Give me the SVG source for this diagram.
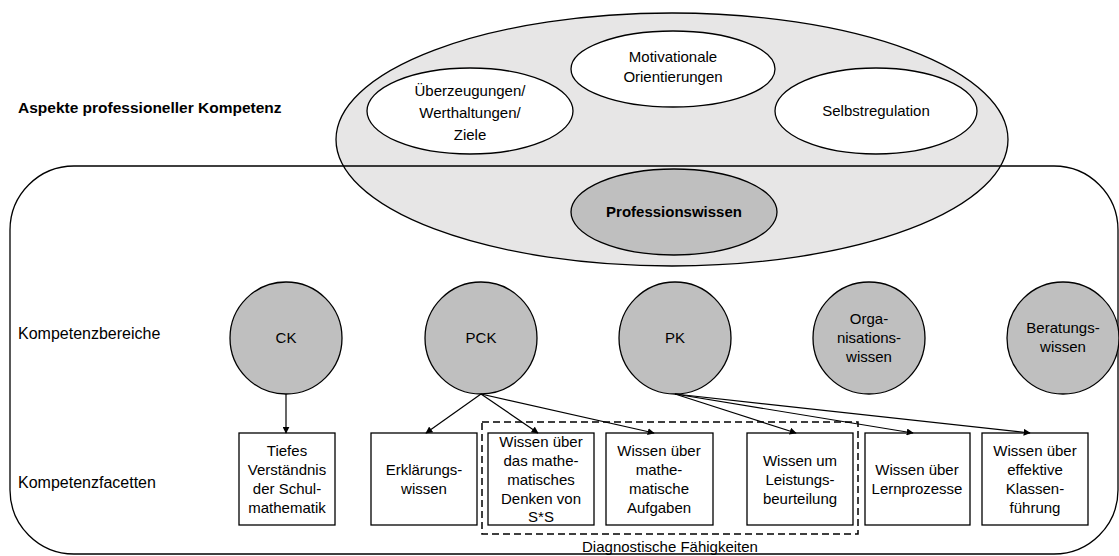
<svg xmlns="http://www.w3.org/2000/svg" width="1119" height="556" viewBox="0 0 1119 556">
<defs>
<style>
text{font-family:"Liberation Sans",Arial,sans-serif;font-size:15px;fill:#000;text-anchor:middle}
.lbl{text-anchor:start;font-size:16px}
.b{font-weight:bold}
.ol{stroke:#000;stroke-width:1.3}
.white{fill:#fff}
.dark{fill:#bfbfbf}
.box{fill:#fff;stroke:#000;stroke-width:1.3}
.con{stroke:#000;stroke-width:1.2;fill:none;marker-end:url(#ah)}
</style>
<marker id="ah" viewBox="0 0 10 10" refX="9" refY="5" markerWidth="7" markerHeight="7" markerUnits="userSpaceOnUse" orient="auto">
<path d="M0,0 L10,5 L0,10 z" fill="#000"/>
</marker>
</defs>
<rect width="1119" height="556" fill="#fff"/>
<g id="aspekte">
<ellipse cx="672" cy="139.5" rx="336" ry="126.5" fill="#e7e6e6" class="ol"/>
</g>
<g id="frame">
<rect x="10" y="166" width="1108" height="388" rx="64" ry="64" fill="none" class="ol"/>
</g>
<g id="ueberzeugungen">
<ellipse cx="470" cy="111" rx="103" ry="43" class="white ol"/>
<text x="470" y="96" font-size="15.5">Überzeugungen/</text>
<text x="470" y="118" font-size="15.5">Werthaltungen/</text>
<text x="470" y="140" font-size="15.5">Ziele</text>
</g>
<g id="motivationale">
<ellipse cx="673" cy="69" rx="102" ry="38" class="white ol"/>
<text x="673" y="62" font-size="15.5">Motivationale</text>
<text x="673" y="82" font-size="15.5">Orientierungen</text>
</g>
<g id="selbstregulation">
<ellipse cx="876" cy="111" rx="101" ry="43" class="white ol"/>
<text x="876" y="116" font-size="15.5">Selbstregulation</text>
</g>
<g id="professionswissen">
<ellipse cx="674" cy="212" rx="103" ry="43" class="dark ol"/>
<text x="674" y="217" class="b">Professionswissen</text>
</g>
<g id="labels">
<text x="18" y="113" class="lbl b" font-size="15.5" style="font-size:15.5px">Aspekte professioneller Kompetenz</text>
<text x="18" y="339" class="lbl">Kompetenzbereiche</text>
<text x="18" y="488" class="lbl">Kompetenzfacetten</text>
</g>
<g id="ck"><circle cx="286" cy="338" r="56" class="dark ol"/><text x="286" y="343">CK</text></g>
<g id="pck"><circle cx="481" cy="338" r="56" class="dark ol"/><text x="481" y="343">PCK</text></g>
<g id="pk"><circle cx="675" cy="338" r="56" class="dark ol"/><text x="675" y="343">PK</text></g>
<g id="orga"><circle cx="869" cy="338" r="56" class="dark ol"/><text x="869" y="324">Orga-</text><text x="869" y="343">nisations-</text><text x="869" y="362">wissen</text></g>
<g id="beratung"><circle cx="1063" cy="338" r="56" class="dark ol"/><text x="1063" y="333">Beratungs-</text><text x="1063" y="352">wissen</text></g>
<g id="diagnostik">
<rect x="482" y="422" width="376" height="112" fill="none" stroke="#000" stroke-width="1.5" stroke-dasharray="7,4"/>
<text x="670" y="552" font-size="12.5">Diagnostische Fähigkeiten</text>
</g>
<g id="f-tiefes"><rect x="239" y="433" width="96" height="92" class="box"/>
<text x="287" y="456">Tiefes</text><text x="287" y="475">Verständnis</text><text x="287" y="494">der Schul-</text><text x="287" y="513">mathematik</text></g>
<g id="f-erklaerung"><rect x="371" y="433" width="106" height="92" class="box"/>
<text x="424" y="475">Erklärungs-</text><text x="424" y="494">wissen</text></g>
<g id="f-denken"><rect x="488" y="433" width="106" height="92" class="box"/>
<text x="541" y="447">Wissen über</text><text x="541" y="466">das mathe-</text><text x="541" y="485">matisches</text><text x="541" y="504">Denken von</text><text x="541" y="522">S*S</text></g>
<g id="f-aufgaben"><rect x="606" y="433" width="107" height="92" class="box"/>
<text x="659" y="456">Wissen über</text><text x="659" y="475">mathe-</text><text x="659" y="494">matische</text><text x="659" y="513">Aufgaben</text></g>
<g id="f-leistung"><rect x="747" y="433" width="106" height="92" class="box"/>
<text x="800" y="466">Wissen um</text><text x="800" y="485">Leistungs-</text><text x="800" y="504">beurteilung</text></g>
<g id="f-lern"><rect x="865" y="433" width="105" height="92" class="box"/>
<text x="917" y="475">Wissen über</text><text x="917" y="494">Lernprozesse</text></g>
<g id="f-klasse"><rect x="982" y="433" width="106" height="92" class="box"/>
<text x="1035" y="456">Wissen über</text><text x="1035" y="475">effektive</text><text x="1035" y="494">Klassen-</text><text x="1035" y="513">führung</text></g>
<g id="connectors">
<line x1="286" y1="394" x2="286" y2="433" class="con"/>
<line x1="481" y1="394" x2="426" y2="433" class="con"/>
<line x1="481" y1="394" x2="538" y2="433" class="con"/>
<line x1="481" y1="394" x2="654" y2="433" class="con"/>
<line x1="675" y1="394" x2="796" y2="433" class="con"/>
<line x1="675" y1="394" x2="913" y2="433" class="con"/>
<line x1="675" y1="394" x2="1030" y2="433" class="con"/>
</g>
</svg>
